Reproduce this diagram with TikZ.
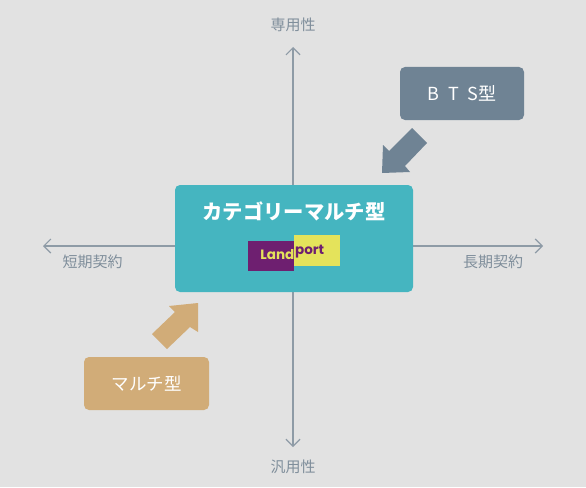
\documentclass[tikz,border=0pt]{standalone}
\usepackage{fontspec}
\setmainfont{Noto Sans CJK JP}
\newfontfamily\logofont{Poppins}
\usetikzlibrary{arrows.meta}
\definecolor{bgc}{HTML}{E2E2E2}
\definecolor{axisc}{HTML}{8E9BA6}
\definecolor{labelc}{HTML}{7F8E9B}
\definecolor{tealc}{HTML}{45B5C0}
\definecolor{slatec}{HTML}{6F8394}
\definecolor{sandc}{HTML}{D1AC78}
\definecolor{purplec}{HTML}{6E1F70}
\definecolor{yellowc}{HTML}{E4E35B}
\tikzset{
  axisline/.style={draw=axisc,line width=1.3pt,{Straight Barb[length=7pt,width=14pt,line width=1.2pt]}-{Straight Barb[length=7pt,width=14pt,line width=1.2pt]}},
  axislabel/.style={text=labelc,font=\fontsize{15}{16}\selectfont,inner sep=0pt},
  typebox/.style={rounded corners=5pt,inner sep=0pt,text=white,anchor=center},
  blockarrow/.style={line width=0pt},
}
\begin{document}
\begin{tikzpicture}[x=1pt,y=-1pt]
\useasboundingbox (0,0) rectangle (586,487);
\fill[bgc] (0,0) rectangle (586,487);
\coordinate (top) at (293,47);
\coordinate (bottom) at (293,447);
\coordinate (left) at (43,246);
\coordinate (right) at (543,246);
\draw[axisline] (top) -- (bottom);
\draw[axisline] (left) -- (right);
\node[axislabel] (lt) at (293,25) {専用性};
\node[axislabel] (lb) at (293,467) {汎用性};
\node[axislabel] (ll) at (92.5,262) {短期契約};
\node[axislabel] (lr) at (493,262) {長期契約};
\node[typebox,fill=tealc,minimum width=238pt,minimum height=107pt] (main) at (294,238.5) {};
\node[text=white,inner sep=0pt,font=\fontsize{20.3}{22}\selectfont\bfseries] (title) at (294,211) {カテゴリーマルチ型};
\fill[purplec] (248,241) rectangle (294,271);
\fill[yellowc] (294,235) rectangle (340,266);
\node[text=yellowc,inner sep=0pt,anchor=east,font=\logofont\bfseries\fontsize{13.5}{14}\selectfont] (l1) at (294.5,254.5) {Land};
\node[text=purplec,inner sep=0pt,anchor=west,font=\logofont\bfseries\fontsize{13.5}{14}\selectfont] (l2) at (295,252) {port};
\node[typebox,fill=slatec,minimum width=124pt,minimum height=53pt] (bts) at (462,93.5) {\fontsize{18}{19}\selectfont B\hspace{9pt}T\hspace{9pt}S型};
\node[typebox,fill=sandc,minimum width=125pt,minimum height=53pt] (multi) at (146.5,383.5) {\fontsize{17.5}{19}\selectfont マルチ型};
\fill[slatec,blockarrow] (412,128) -- (427,143) -- (405,166) -- (410,172) -- (382,173) -- (383,145) -- (389,151) -- cycle;
\fill[sandc,blockarrow] (198,303) -- (198,332) -- (190,327) -- (167,349) -- (152,334) -- (175,312) -- (169,306) -- cycle;
\end{tikzpicture}
\end{document}
